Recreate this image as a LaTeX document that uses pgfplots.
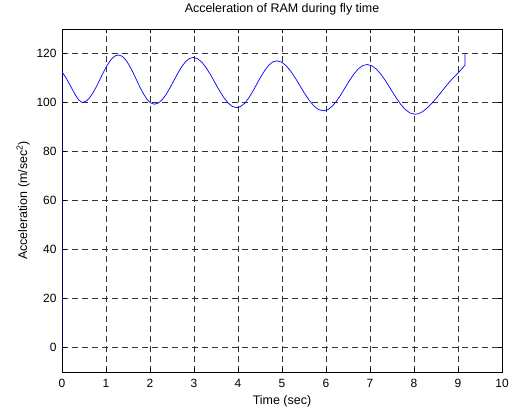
\documentclass[border=0pt]{standalone}
\usepackage{fontspec}
\setmainfont{Liberation Sans}
\usepackage{pgfplots}
\pgfplotsset{compat=1.18}
\begin{document}
\begin{tikzpicture}
\begin{axis}[
  at={(0,0)}, anchor=south west,
  scale only axis, width=440bp, height=343bp,
  xmin=0, xmax=10, ymin=-10, ymax=130,
  xtick={0,1,...,10}, ytick={0,20,...,120},
  /pgf/number format/assume math mode=true,
  tick label style={font=\fontsize{12}{14}\selectfont},
  yticklabel style={xshift=-2bp},
  xticklabel style={yshift=-4bp},
  grid=major,
  major grid style={black!80, dash pattern=on 6bp off 4bp, line width=0.5bp},
  tick align=inside, tick pos=both, major tick length=4bp,
  every tick/.style={black, line width=0.5bp},
  axis line style={line width=0.6bp},
  title={Acceleration of RAM during fly time},
  title style={font=\fontsize{12.5}{14}\selectfont, at={(0.5,1.0306)}, anchor=base},
  xlabel={Time (sec)},
  xlabel style={font=\fontsize{12.5}{14}\selectfont, at={(0.5,-0.0962)}, anchor=base},
  ylabel={Acceleration (m/sec\textsuperscript{2})},
  ylabel style={font=\fontsize{12.5}{14}\selectfont, at={(-0.0795,0.5)}, anchor=base, rotate=0},
]
\addplot[blue, line width=0.7bp] coordinates {
(0,0) (0,112.5) (0.1,109.8) (0.2,106.5) (0.3,103.2) (0.38,101) (0.46,100)
(0.542,100.47) (0.624,101.84) (0.706,104.0) (0.788,106.69) (0.87,109.7) (0.952,112.71) (1.034,115.40) (1.116,117.56) (1.198,118.93) (1.28,119.4)
(1.362,118.92) (1.444,117.49) (1.526,115.26) (1.608,112.47) (1.69,109.35) (1.772,106.23) (1.854,103.44) (1.936,101.21) (2.018,99.78) (2.10,99.3)
(2.188,99.76) (2.276,101.11) (2.364,103.23) (2.452,105.89) (2.54,108.85) (2.628,111.81) (2.716,114.47) (2.804,116.59) (2.892,117.94) (2.98,118.4)
(3.079,117.91) (3.178,116.45) (3.277,114.18) (3.376,111.33) (3.475,108.15) (3.574,104.97) (3.673,102.12) (3.772,99.85) (3.871,98.39) (3.97,97.9)
(4.061,98.36) (4.152,99.71) (4.243,101.83) (4.334,104.49) (4.425,107.45) (4.516,110.41) (4.607,113.07) (4.698,115.19) (4.789,116.54) (4.88,117.0)
(4.986,116.51) (5.092,115.06) (5.198,112.80) (5.304,109.96) (5.41,106.8) (5.516,103.64) (5.622,100.80) (5.728,98.54) (5.834,97.09) (5.94,96.6)
(6.039,97.05) (6.138,98.40) (6.237,100.49) (6.336,103.12) (6.435,106.05) (6.534,108.98) (6.633,111.61) (6.732,113.70) (6.831,115.05) (6.93,115.5)
(7.039,115.01) (7.148,113.57) (7.257,111.32) (7.366,108.5) (7.475,105.35) (7.584,102.2) (7.693,99.38) (7.802,97.13) (7.911,95.70) (8.02,95.2)
(8.1,95.4) (8.2,96.3) (8.3,97.8) (8.4,99.6) (8.5,101.6) (8.6,103.8) (8.7,106.1) (8.8,108.3) (8.9,110.2) (9.0,112.0) (9.08,113.6) (9.16,115.3) (9.16,120)
};
\end{axis}
\pgfresetboundingbox
\path (-62bp,-38bp) rectangle (448bp,372bp);
\end{tikzpicture}
\end{document}
